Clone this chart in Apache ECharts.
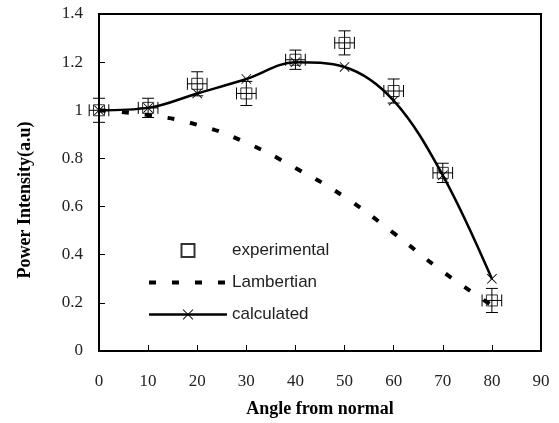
<!DOCTYPE html>
<html>
<head>
<meta charset="utf-8">
<script src="https://cdn.jsdelivr.net/npm/echarts@6/dist/echarts.min.js"></script>
<style>
  html, body { margin: 0; padding: 0; background: #fff; }
  #chart { width: 559px; height: 423px; }
</style>
</head>
<body>
<div id="chart"></div>
<script>
// values
const angles = [0, 10, 20, 30, 40, 50, 60, 70, 80];
const experimental = [1.00, 1.01, 1.11, 1.07, 1.21, 1.28, 1.08, 0.74, 0.21];
const expYErr = [0.05, 0.04, 0.05, 0.05, 0.04, 0.05, 0.05, 0.04, 0.05];
const expXErr = [2, 2, 2, 2, 2, 2, 2, 2, 2];
const lambertian = [1.00, 0.98, 0.94, 0.865, 0.76, 0.64, 0.49, 0.33, 0.19];
const calculated = [1.00, 1.01, 1.07, 1.13, 1.20, 1.18, 1.04, 0.73, 0.30];

const serif = "'Liberation Serif', 'Times New Roman', serif";
const sans = "'Liberation Sans', Arial, sans-serif";
const crossPath = 'path://M0,0.6L0.6,0L5,4.4L9.4,0L10,0.6L5.6,5L10,9.4L9.4,10L5,5.6L0.6,10L0,9.4L4.4,5Z';
const squarePath = 'path://M0,0H10V10H0Z';

const chart = echarts.init(document.getElementById('chart'));

const errorBars = (params, api) => {
  const x = api.value(0), y = api.value(1);
  const xe = api.value(2), ye = api.value(3);
  const top = api.coord([x, y + ye]);
  const bot = api.coord([x, y - ye]);
  const lft = api.coord([x - xe, y]);
  const rgt = api.coord([x + xe, y]);
  const cap = 6;
  const st = { stroke: '#000', lineWidth: 1 };
  const ln = (x1, y1, x2, y2) => ({ type: 'line', shape: { x1, y1, x2, y2 }, style: st });
  return {
    type: 'group',
    children: [
      ln(top[0], top[1], bot[0], bot[1]),
      ln(top[0] - cap, top[1], top[0] + cap, top[1]),
      ln(bot[0] - cap, bot[1], bot[0] + cap, bot[1]),
      ln(lft[0], lft[1], rgt[0], rgt[1]),
      ln(lft[0], lft[1] - cap, lft[0], lft[1] + cap),
      ln(rgt[0], rgt[1] - cap, rgt[0], rgt[1] + cap)
    ]
  };
};

const option = {
  animation: false,
  backgroundColor: '#fff',
  grid: {
    left: 99, right: 18, top: 14, bottom: 71,
    show: true, borderColor: '#000', borderWidth: 2
  },
  legend: {
    orient: 'vertical',
    left: 142,
    top: 237,
    itemWidth: 78,
    itemHeight: 13,
    itemGap: 15,
    textStyle: { fontFamily: sans, fontSize: 17, color: '#222' },
    data: [
      { name: 'experimental' },
      { name: 'Lambertian', itemStyle: { opacity: 0 }, lineStyle: { width: 4, type: [7, 16], color: '#000' } },
      { name: 'calculated', lineStyle: { width: 2.5, color: '#000' } }
    ]
  },
  xAxis: {
    type: 'value',
    min: 0, max: 90, interval: 10,
    name: 'Angle from normal',
    nameLocation: 'middle',
    nameGap: 49,
    nameTextStyle: { fontFamily: serif, fontWeight: 'bold', fontSize: 18, color: '#000' },
    axisLine: { lineStyle: { color: '#000', width: 2 } },
    axisTick: { inside: true, length: 6, lineStyle: { color: '#000', width: 1 } },
    axisLabel: { margin: 22, fontFamily: serif, fontSize: 17, color: '#222' },
    splitLine: { show: false }
  },
  yAxis: {
    type: 'value',
    min: 0, max: 1.4, interval: 0.2,
    axisLine: { show: true, lineStyle: { color: '#000', width: 2 } },
    axisTick: { show: true, inside: true, length: 6, lineStyle: { color: '#000', width: 1 } },
    axisLabel: { margin: 16, fontFamily: serif, fontSize: 17, color: '#222' },
    splitLine: { show: false }
  },
  graphic: [{
    type: 'text',
    x: 25, y: 200,
    rotation: Math.PI / 2,
    style: {
      text: 'Power Intensity(a.u)',
      font: "bold 18px 'Liberation Serif', serif",
      fill: '#000',
      align: 'center',
      verticalAlign: 'middle'
    }
  }],
  series: [
    {
      name: 'experimental',
      type: 'scatter',
      symbol: squarePath,
      symbolSize: 11,
      itemStyle: { color: 'rgba(255,255,255,0)', borderColor: '#000', borderWidth: 1 },
      data: angles.map((a, i) => [a, experimental[i]]),
      z: 4
    },
    {
      name: 'experimental-err',
      type: 'custom',
      renderItem: errorBars,
      data: angles.map((a, i) => [a, experimental[i], expXErr[i], expYErr[i]]),
      z: 4
    },
    {
      name: 'Lambertian',
      type: 'line',
      smooth: true,
      symbol: 'none',
      lineStyle: { color: '#000', width: 4, type: [7, 16], cap: 'butt' },
      itemStyle: { color: '#000' },
      data: angles.map((a, i) => [a, lambertian[i]]),
      z: 2
    },
    {
      name: 'calculated',
      type: 'line',
      smooth: 0.35,
      symbol: crossPath,
      symbolSize: 10,
      showSymbol: true,
      lineStyle: { color: '#000', width: 2.5 },
      itemStyle: { color: '#000' },
      data: angles.map((a, i) => [a, calculated[i]]),
      z: 3
    }
  ]
};

chart.setOption(option);
</script>
</body>
</html>
